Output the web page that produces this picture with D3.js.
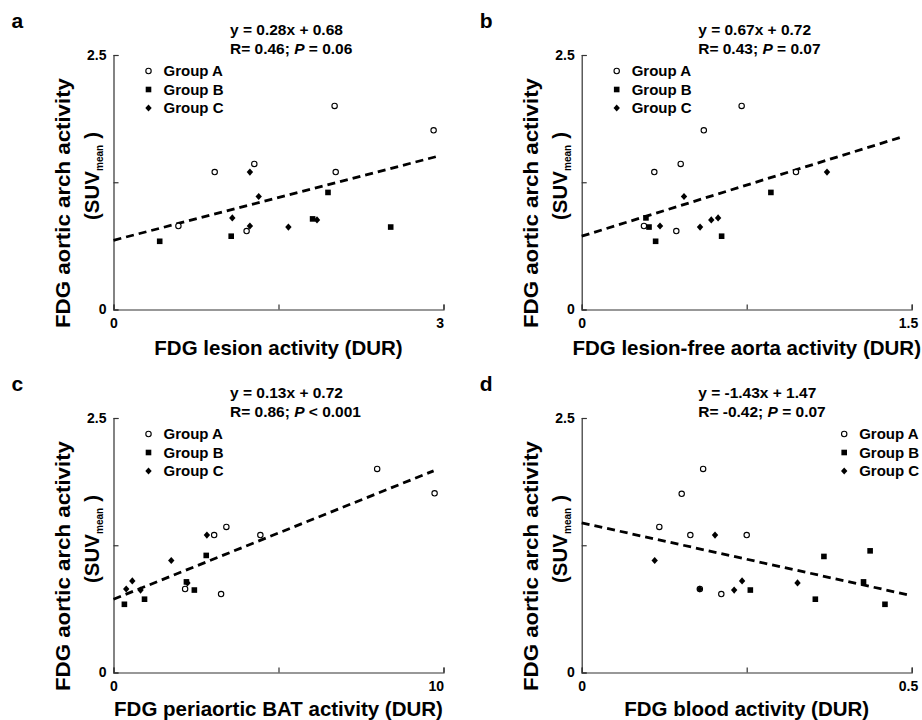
<!DOCTYPE html>
<html>
<head>
<meta charset="utf-8">
<script src="https://cdn.jsdelivr.net/npm/d3@7"></script>
<style>
  html, body { margin: 0; padding: 0; background: #fff; }
  svg { display: block; }
  text { font-family: "Liberation Sans", Arial, sans-serif; font-weight: bold; fill: #000; }
</style>
</head>
<body>
<svg id="chart" width="922" height="720"></svg>
<script>
// ---------------- DATA ----------------
const panelLetters = ["a", "b", "c", "d"];
const xLabels = [
  "FDG lesion activity (DUR)",
  "FDG lesion-free aorta activity (DUR)",
  "FDG periaortic BAT activity (DUR)",
  "FDG blood activity (DUR)"
];
const yLabelMain = "FDG aortic arch activity";
const xMax = [3, 1.5, 10, 0.5];
const xTickLabels = [["0", "3"], ["0", "1.5"], ["0", "10"], ["0", "0.5"]];
const yMax = 2.5;
const yTickLabels = ["0", "2.5"];
const groupNames = ["Group A", "Group B", "Group C"];

const equations = [
  "y = 0.28x + 0.68",
  "y = 0.67x + 0.72",
  "y = 0.13x + 0.72",
  "y = -1.43x + 1.47"
];
const statR = ["R= 0.46; ", "R= 0.43; ", "R= 0.86; ", "R= -0.42; "];
const statP = [" = 0.06", " = 0.07", " < 0.001", " = 0.07"];

// regression: slope, intercept, x end
const slopes = [0.28, 0.67, 0.13, -1.43];
const intercepts = [0.68, 0.72, 0.72, 1.47];
const lineXEnd = [2.93, 1.45, 9.7, 0.495];

// Panel a
const aA_x = [0.59, 0.92, 1.21, 1.28, 2.01, 2.02, 2.91];
const aA_y = [0.82, 1.35, 0.77, 1.43, 2.00, 1.35, 1.76];
const aB_x = [0.42, 1.07, 1.81, 1.95, 2.52];
const aB_y = [0.67, 0.72, 0.89, 1.15, 0.81];
const aC_x = [1.08, 1.24, 1.24, 1.32, 1.59, 1.85];
const aC_y = [0.90, 1.35, 0.82, 1.11, 0.81, 0.88];
// Panel b
const bA_x = [0.283, 0.33, 0.43, 0.45, 0.555, 0.727, 0.974];
const bA_y = [0.82, 1.35, 0.77, 1.43, 1.76, 2.00, 1.35];
const bB_x = [0.292, 0.306, 0.336, 0.636, 0.86];
const bB_y = [0.90, 0.81, 0.67, 0.72, 1.15];
const bC_x = [0.356, 0.465, 0.538, 0.589, 0.62, 1.115];
const bC_y = [0.82, 1.11, 0.81, 0.88, 0.90, 1.35];
// Panel c
const cA_x = [2.17, 3.05, 3.26, 3.42, 4.45, 7.99, 9.73];
const cA_y = [0.82, 1.35, 0.77, 1.43, 1.35, 2.00, 1.76];
const cB_x = [0.33, 0.94, 2.21, 2.45, 2.81];
const cB_y = [0.67, 0.72, 0.89, 0.81, 1.15];
const cC_x = [0.385, 0.57, 0.82, 1.75, 2.24, 2.83];
const cC_y = [0.82, 0.90, 0.81, 1.10, 0.88, 1.35];
// Panel d
const dA_x = [0.1176, 0.1515, 0.1646, 0.184, 0.2115, 0.25, 0.179];
const dA_y = [1.43, 1.755, 1.35, 2.00, 0.77, 1.35, 0.82];
const dB_x = [0.2555, 0.354, 0.367, 0.427, 0.437, 0.4595];
const dB_y = [0.81, 0.72, 1.14, 0.89, 1.195, 0.67];
const dC_x = [0.1106, 0.179, 0.202, 0.231, 0.243, 0.327];
const dC_y = [1.10, 0.82, 1.35, 0.81, 0.90, 0.88];

const panelData = [
  [[aA_x, aA_y], [aB_x, aB_y], [aC_x, aC_y]],
  [[bA_x, bA_y], [bB_x, bB_y], [bC_x, bC_y]],
  [[cA_x, cA_y], [cB_x, cB_y], [cC_x, cC_y]],
  [[dA_x, dA_y], [dB_x, dB_y], [dC_x, dC_y]]
];

// ---------------- LAYOUT ----------------
const svg = d3.select("#chart");
const W = 330, H = 254.5;
const origins = [[113.5, 55], [581.7, 55], [113.5, 418], [581.7, 418]];
const legendX = [35, 35, 35, 262.5];
const xLabelDy = [45.5, 45.5, 43, 43];

function diamondPath(cx, cy) {
  const hw = 3.2, hh = 3.6;
  return `M${cx},${cy - hh}L${cx + hw},${cy}L${cx},${cy + hh}L${cx - hw},${cy}Z`;
}
function drawMarker(g, kind, cx, cy) {
  if (kind === 0) {
    g.append("circle").attr("cx", cx).attr("cy", cy).attr("r", 2.7)
      .attr("fill", "#fff").attr("stroke", "#000").attr("stroke-width", 1.1);
  } else if (kind === 1) {
    g.append("rect").attr("x", cx - 2.8).attr("y", cy - 2.8).attr("width", 5.6).attr("height", 5.6)
      .attr("fill", "#000");
  } else {
    g.append("path").attr("d", diamondPath(cx, cy)).attr("fill", "#000");
  }
}

panelLetters.forEach((letter, i) => {
  const [ox, oy] = origins[i];
  const g = svg.append("g").attr("transform", `translate(${ox},${oy})`);
  const x = d3.scaleLinear().domain([0, xMax[i]]).range([0, W]);
  const y = d3.scaleLinear().domain([0, yMax]).range([H, 0]);

  // panel letter
  svg.append("text").attr("x", ox - 102).attr("y", oy - 27)
    .style("font-size", "21px").text(letter);

  // axes
  const yAxis = d3.axisLeft(y).tickValues([0, yMax / 2, yMax]).tickSize(-5).tickPadding(7)
    .tickFormat(d => d === 0 ? yTickLabels[0] : (d === yMax ? yTickLabels[1] : ""));
  const xAxis = d3.axisBottom(x).tickValues([0, xMax[i] / 2, xMax[i]]).tickSize(-5).tickPadding(9)
    .tickFormat(d => d === 0 ? xTickLabels[i][0] : (d === xMax[i] ? xTickLabels[i][1] : ""));

  const ya = g.append("g").call(yAxis);
  const xa = g.append("g").attr("transform", `translate(0,${H})`).call(xAxis);
  [ya, xa].forEach(a => {
    a.select(".domain").attr("stroke", "#333").attr("stroke-width", 1.2);
    a.selectAll(".tick line").attr("stroke", "#333").attr("stroke-width", 1.2);
    a.selectAll("text").style("font-size", "14px").style("font-family", "'Liberation Sans', Arial, sans-serif")
      .style("font-weight", "bold").attr("fill", "#000");
  });
  xa.selectAll(".tick text").filter(d => d === xMax[i]).attr("text-anchor", "end").attr("dx", i % 2 === 0 ? 0 : 6);

  // regression line
  g.append("line")
    .attr("x1", x(0)).attr("y1", y(intercepts[i]))
    .attr("x2", x(lineXEnd[i])).attr("y2", y(intercepts[i] + slopes[i] * lineXEnd[i]))
    .attr("stroke", "#000").attr("stroke-width", 2.8).attr("stroke-dasharray", "8,5");

  // points
  panelData[i].forEach((grp, k) => {
    const [xs, ys] = grp;
    xs.forEach((xv, j) => drawMarker(g, k, x(xv), y(ys[j])));
  });

  // equation text
  g.append("text").attr("x", 116.5).attr("y", -20).style("font-size", "15.5px").text(equations[i]);
  const t2 = g.append("text").attr("x", 116.5).attr("y", -1).style("font-size", "15.5px");
  t2.append("tspan").text(statR[i]);
  t2.append("tspan").style("font-style", "italic").text("P");
  t2.append("tspan").text(statP[i]);

  // legend
  groupNames.forEach((name, k) => {
    const cy = 16 + k * 18.5;
    drawMarker(g, k, legendX[i], cy);
    g.append("text").attr("x", legendX[i] + 15).attr("y", cy + 5).style("font-size", "15px").text(name);
  });

  // x label
  g.append("text").attr("x", W / 2).attr("y", H + xLabelDy[i]).attr("text-anchor", "middle")
    .style("font-size", "20.5px").text(xLabels[i]);

  // y label (two lines)
  g.append("text").attr("transform", `translate(-43.5,${148}) rotate(-90)`)
    .attr("text-anchor", "middle").style("font-size", "21px")
    .attr("textLength", 250).attr("lengthAdjust", "spacingAndGlyphs").text(yLabelMain);
  const yl2 = g.append("text").attr("transform", `translate(-14.5,${121}) rotate(-90)`)
    .attr("text-anchor", "middle").style("font-size", "20.5px");
  yl2.append("tspan").text("(SUV");
  yl2.append("tspan").attr("dy", 4).style("font-size", "10px").text("mean");
  yl2.append("tspan").attr("dy", -4).attr("dx", 6).text(")");
});
</script>
</body>
</html>
